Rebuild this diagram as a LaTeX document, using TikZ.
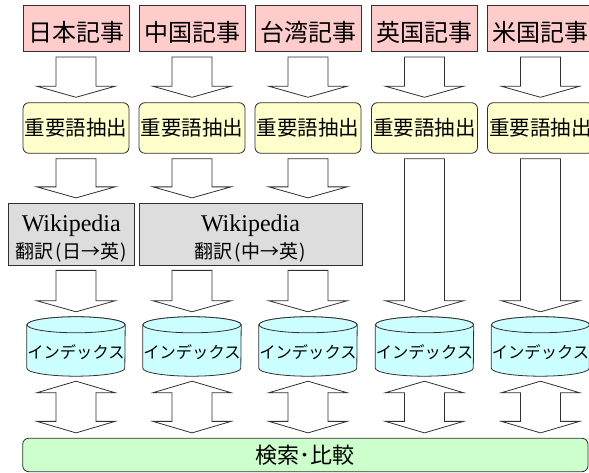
\documentclass[tikz,border=0pt]{standalone}
\usepackage{fontspec}
\setmainfont{Liberation Serif}
\newfontfamily\jp{Noto Sans CJK JP}
\usetikzlibrary{calc}
\definecolor{pinkf}{HTML}{FFCCCC}
\definecolor{yelf}{HTML}{FFFFCC}
\definecolor{grayf}{HTML}{DDDDDD}
\definecolor{cyanf}{HTML}{CCFFFF}
\definecolor{greenf}{HTML}{CCFFCC}
\definecolor{edge}{HTML}{303030}
\tikzset{
  base/.style={draw=edge, line width=0.8pt, inner sep=0pt, align=center},
  artbox/.style={base, fill=pinkf, minimum width=106pt, minimum height=46.5pt,
    font=\jp\fontsize{24}{28}\selectfont, text height=26pt, text depth=0pt},
  keybox/.style={base, fill=yelf, rounded corners=6pt, minimum width=106pt, minimum height=50.6pt,
    font=\jp\fontsize{20.5}{24}\selectfont},
  wikibox/.style={base, fill=grayf, minimum height=61.7pt},
  wikiA/.style={inner sep=0pt, anchor=base, font=\fontsize{24}{28}\selectfont},
  wikiB/.style={inner sep=0pt, anchor=base, font=\jp\fontsize{19}{22}\selectfont},
  cylbox/.style={inner sep=0pt, minimum width=98pt, minimum height=59pt},
  cyl/.style={draw=edge, line width=0.8pt, fill=cyanf},
  idxtext/.style={inner sep=0pt, font=\jp\fontsize{16.3}{19}\selectfont},
  cmpbox/.style={base, fill=greenf, rounded corners=6pt, minimum width=565.3pt, minimum height=33.4pt,
    font=\jp\fontsize{22}{26}\selectfont},
  blk/.style={draw=edge, line width=0.8pt, fill=white, line join=miter},
}
\newcommand\barrow[3]{\draw[blk] let \p1=(#1.south -| #3), \p2=(#2.north -| #3) in
  (\x1-20pt,\y1-5pt) -- (\x1+20pt,\y1-5pt) -- (\x1+20pt,\y2+16pt) -- (\x1+39pt,\y2+16pt)
  -- (\x1,\y2+5pt) -- (\x1-39pt,\y2+16pt) -- (\x1-20pt,\y2+16pt) -- cycle;}
\newcommand\dbarrow[3]{\draw[blk] let \p1=(#1.south -| #3), \p2=(#2.north -| #3) in
  (\x1,\y1-5pt) -- (\x1+39pt,\y1-16.5pt) -- (\x1+20pt,\y1-16.5pt) -- (\x1+20pt,\y2+16.5pt)
  -- (\x1+39pt,\y2+16.5pt) -- (\x1,\y2+5pt) -- (\x1-39pt,\y2+16.5pt) -- (\x1-20pt,\y2+16.5pt)
  -- (\x1-20pt,\y1-16.5pt) -- (\x1-39pt,\y1-16.5pt) -- cycle;}
\newcommand\cylinderdraw[1]{%
  \filldraw[cyl] ([yshift=-8pt]#1.north west) -- ([yshift=8pt]#1.south west)
    arc[start angle=180, end angle=360, x radius=49pt, y radius=8pt]
    -- ([yshift=-8pt]#1.north east)
    arc[start angle=0, end angle=180, x radius=49pt, y radius=8pt] -- cycle;
  \draw[cyl] ([yshift=-8pt]#1.north) ellipse[x radius=49pt, y radius=8pt];}
\begin{document}
\begin{tikzpicture}[x=1pt,y=1pt]
\useasboundingbox (0,0) rectangle (589,473);
% columns
\coordinate (col1) at (76,0);
\coordinate (col2) at (192,0);
\coordinate (col3) at (308,0);
\coordinate (col4) at (424.5,0);
\coordinate (col5) at (540.5,0);
% articles
\node[artbox] (a1) at (76,444.7) {日本記事};
\node[artbox] (a2) at (192,444.7) {中国記事};
\node[artbox] (a3) at (308,444.7) {台湾記事};
\node[artbox] (a4) at (424.5,444.7) {英国記事};
\node[artbox] (a5) at (540.5,444.7) {米国記事};
% keyword extraction
\node[keybox] (k1) at (76,345) {重要語抽出};
\node[keybox] (k2) at (192,345) {重要語抽出};
\node[keybox] (k3) at (308,345) {重要語抽出};
\node[keybox] (k4) at (424.5,345) {重要語抽出};
\node[keybox] (k5) at (540.5,345) {重要語抽出};
% wikipedia translation
\node[wikibox, minimum width=126pt] (w1) at (71.3,238.85) {};
\node[wikibox, minimum width=223pt] (w2) at (250.5,238.85) {};
\node[wikiA] (w1a) at ([yshift=2.2pt]w1.center) {Wikipedia};
\node[wikiB] (w1b) at ([yshift=-24.5pt]w1.center) {翻訳\kern1.5pt(\kern1pt日→英\kern1pt)};
\node[wikiA] (w2a) at ([yshift=2.2pt]w2.center) {Wikipedia};
\node[wikiB] (w2b) at ([yshift=-24.5pt]w2.center) {翻訳\kern1.5pt(\kern1pt中→英\kern1pt)};
% indexes
\foreach \i/\x in {1/76,2/192,3/308,4/424.5,5/540.5}{
  \node[cylbox] (idx\i) at (\x,126.5) {};
  \cylinderdraw{idx\i}
  \node[idxtext] (idxt\i) at ([yshift=-5.2pt]idx\i.center) {インデックス};
}
% search & compare
\node[cmpbox] (s) at (305.35,18) {検索･比較};
% arrows
\foreach \i in {1,...,5}{ \barrow{a\i}{k\i}{col\i} }
\barrow{k1}{w1}{col1}
\barrow{k2}{w2}{col2}
\barrow{k3}{w2}{col3}
\barrow{w1}{idx1}{col1}
\barrow{w2}{idx2}{col2}
\barrow{w2}{idx3}{col3}
\barrow{k4}{idx4}{col4}
\barrow{k5}{idx5}{col5}
\foreach \i in {1,...,5}{ \dbarrow{idx\i}{s}{col\i} }
\end{tikzpicture}
\end{document}
